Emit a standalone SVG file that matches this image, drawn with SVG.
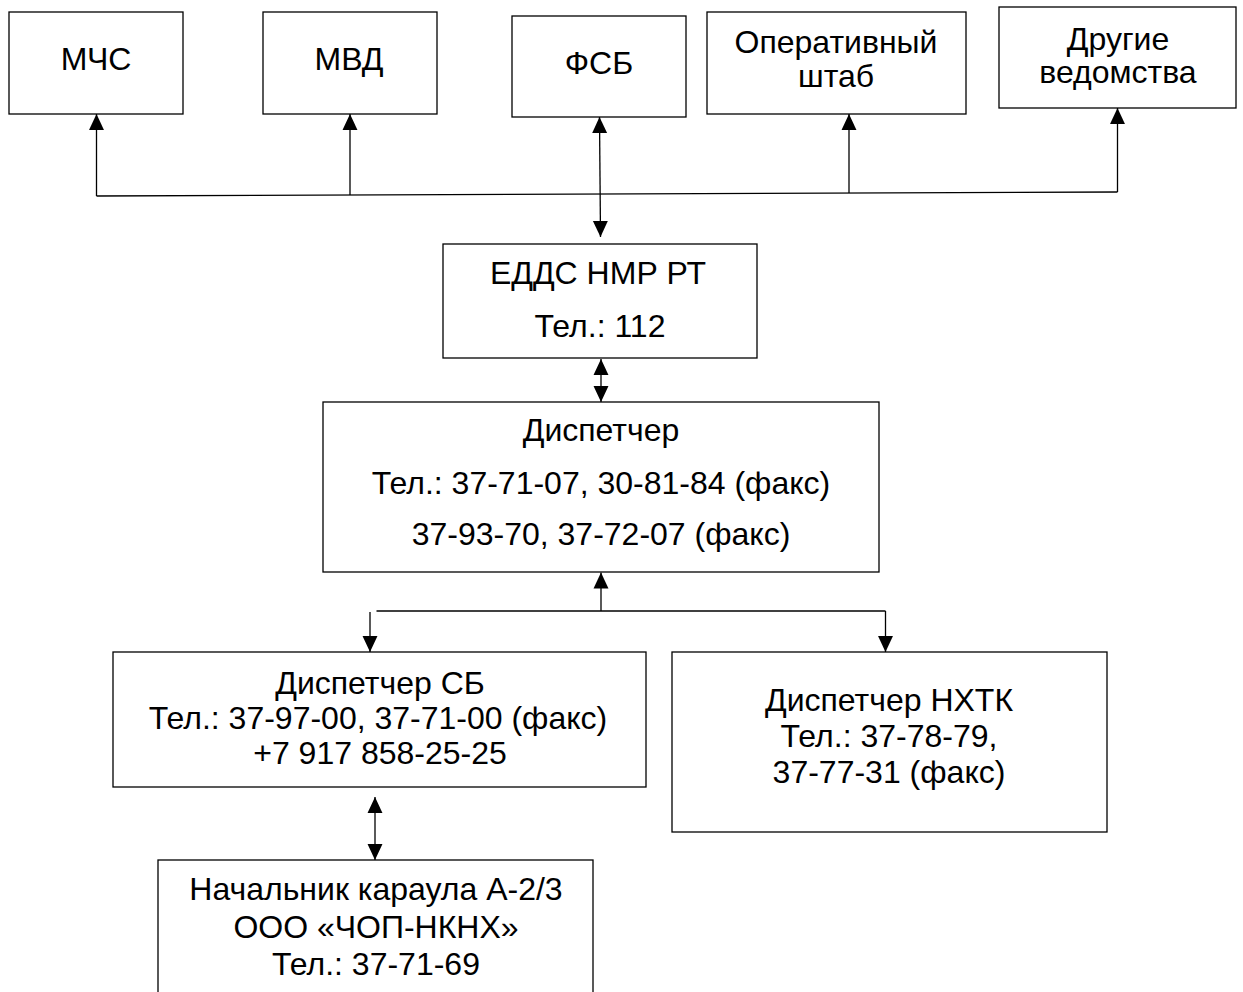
<svg xmlns="http://www.w3.org/2000/svg" width="1243" height="992" viewBox="0 0 1243 992">
<style>
.box{fill:#fff;stroke:#000;stroke-width:1.3}
.t{font-family:"Liberation Sans",Arial,sans-serif;font-size:32px;fill:#000;text-anchor:middle}
.c{fill:none;stroke:#000;stroke-width:1.3}
</style>
<defs>
<marker id="ah" markerUnits="userSpaceOnUse" markerWidth="16" markerHeight="16" refX="15" refY="7" orient="auto-start-reverse" viewBox="0 0 15 14">
<path d="M0,0 L15,7 L0,14 z" fill="#000"/>
</marker>
</defs>
<rect width="1243" height="992" fill="#fff"/>
<g id="mchs"><rect class="box" x="9" y="12" width="174" height="102"/><text class="t" x="96" y="70">МЧС</text></g>
<g id="mvd"><rect class="box" x="263" y="12" width="174" height="102"/><text class="t" x="349" y="70">МВД</text></g>
<g id="fsb"><rect class="box" x="512" y="16" width="174" height="101"/><text class="t" x="599" y="74">ФСБ</text></g>
<g id="opshtab"><rect class="box" x="707" y="12" width="259" height="102"/><text class="t" x="836" y="53">Оперативный</text><text class="t" x="836" y="87">штаб</text></g>
<g id="drugie"><rect class="box" x="999" y="7" width="237" height="101"/><text class="t" x="1118" y="50">Другие</text><text class="t" x="1118" y="83">ведомства</text></g>
<g id="edds"><rect class="box" x="443" y="244" width="314" height="114"/><text class="t" x="598" y="284">ЕДДС НМР РТ</text><text class="t" x="600" y="337">Тел.: 112</text></g>
<g id="dispatcher"><rect class="box" x="323" y="402" width="556" height="170"/><text class="t" x="601" y="441">Диспетчер</text><text class="t" x="601" y="494">Тел.: 37-71-07, 30-81-84 (факс)</text><text class="t" x="601" y="545">37-93-70, 37-72-07 (факс)</text></g>
<g id="dispatcher-sb"><rect class="box" x="113" y="652" width="533" height="135"/><text class="t" x="380" y="694">Диспетчер СБ</text><text class="t" x="378" y="729">Тел.: 37-97-00, 37-71-00 (факс)</text><text class="t" x="380" y="764">+7 917 858-25-25</text></g>
<g id="dispatcher-nhtk"><rect class="box" x="672" y="652" width="435" height="180"/><text class="t" x="889" y="711">Диспетчер НХТК</text><text class="t" x="889" y="747">Тел.: 37-78-79,</text><text class="t" x="889" y="783">37-77-31 (факс)</text></g>
<g id="nachalnik"><rect class="box" x="158" y="860" width="435" height="150"/><text class="t" x="376" y="900">Начальник караула А-2/3</text><text class="t" x="376" y="938">ООО «ЧОП-НКНХ»</text><text class="t" x="376" y="975">Тел.: 37-71-69</text></g>
<g id="connectors">
<line class="c" x1="96.5" y1="196" x2="1117.5" y2="192"/>
<line class="c" x1="96.5" y1="196" x2="96.5" y2="114" marker-end="url(#ah)"/>
<line class="c" x1="350" y1="195" x2="350" y2="114" marker-end="url(#ah)"/>
<line class="c" x1="600.5" y1="237" x2="599.5" y2="117" marker-start="url(#ah)" marker-end="url(#ah)"/>
<line class="c" x1="849" y1="193" x2="849" y2="114" marker-end="url(#ah)"/>
<line class="c" x1="1117.5" y1="192" x2="1117.5" y2="108" marker-end="url(#ah)"/>
<line class="c" x1="601" y1="359" x2="601" y2="402" marker-start="url(#ah)" marker-end="url(#ah)"/>
<line class="c" x1="601" y1="611" x2="601" y2="572.5" marker-end="url(#ah)"/>
<line class="c" x1="376.5" y1="611" x2="885.5" y2="611"/>
<line class="c" x1="370" y1="612" x2="370" y2="652" marker-end="url(#ah)"/>
<line class="c" x1="885.5" y1="611" x2="885.5" y2="652" marker-end="url(#ah)"/>
<line class="c" x1="375" y1="797" x2="375" y2="860" marker-start="url(#ah)" marker-end="url(#ah)"/>
</g>
</svg>
